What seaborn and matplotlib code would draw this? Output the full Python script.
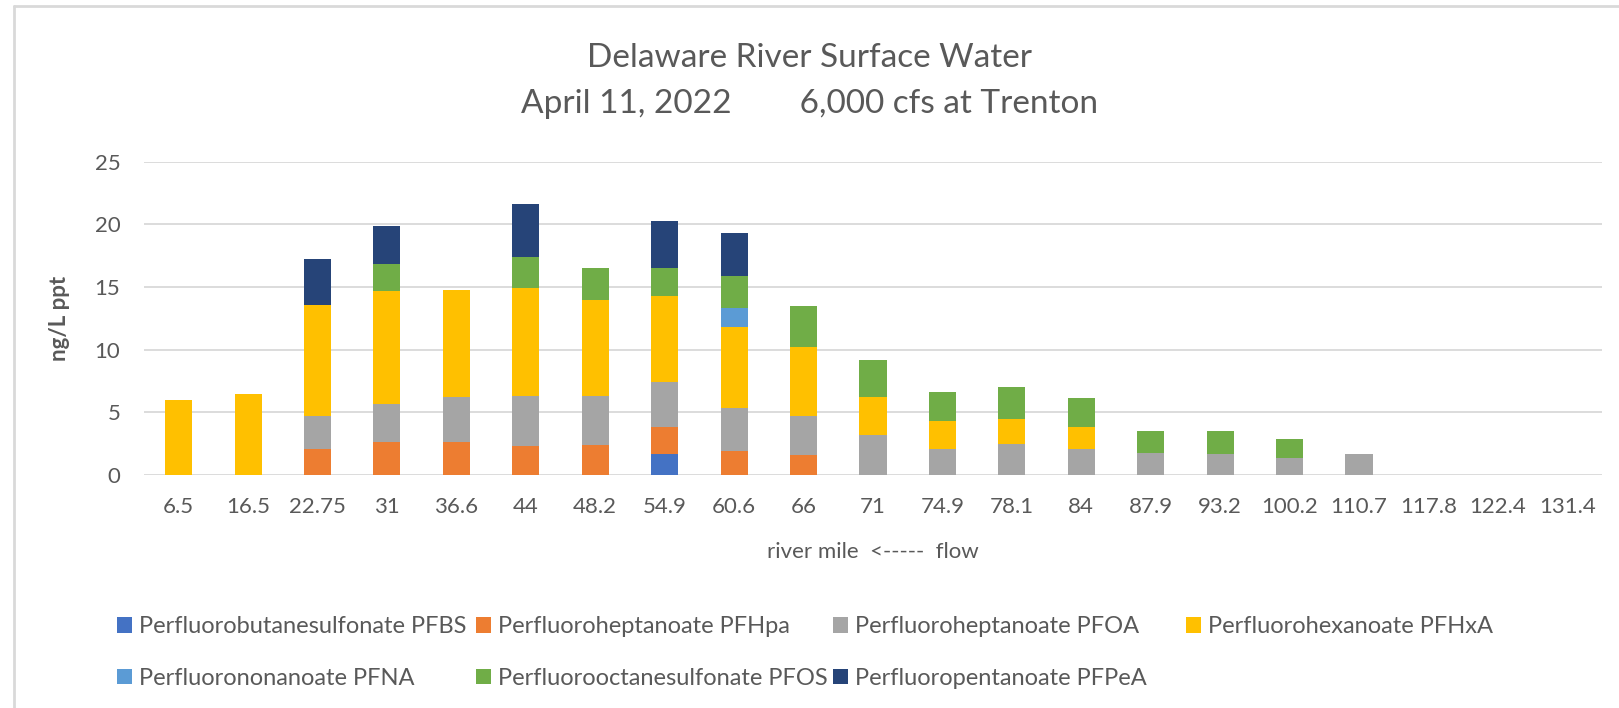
import numpy as np
import pandas as pd
import seaborn as sns
import matplotlib
matplotlib.use("Agg")
import matplotlib.pyplot as plt
from matplotlib.patches import Patch
from matplotlib.lines import Line2D

# river mile categories (x axis)
miles = ["6.5", "16.5", "22.75", "31", "36.6", "44", "48.2", "54.9", "60.6", "66",
         "71", "74.9", "78.1", "84", "87.9", "93.2", "100.2", "110.7", "117.8", "122.4", "131.4"]

# concentrations in ng/L (stacked bottom -> top)
pfbs = [0, 0, 0, 0, 0, 0, 0, 1.7, 0, 0, 0, 0, 0, 0, 0, 0, 0, 0, 0, 0, 0]
pfhpa = [0, 0, 2.1, 2.6, 2.6, 2.3, 2.4, 2.1, 1.9, 1.6, 0, 0, 0, 0, 0, 0, 0, 0, 0, 0, 0]
pfoa = [0, 0, 2.65, 3.1, 3.6, 4.0, 3.9, 3.65, 3.45, 3.15, 3.2, 2.1, 2.5, 2.1, 1.8, 1.7, 1.35, 1.7, 0, 0, 0]
pfhxa = [6.0, 6.5, 8.8, 9.0, 8.6, 8.6, 7.7, 6.8, 6.45, 5.5, 3.0, 2.2, 2.0, 1.75, 0, 0, 0, 0, 0, 0, 0]
pfna = [0, 0, 0, 0, 0, 0, 0, 0, 1.55, 0, 0, 0, 0, 0, 0, 0, 0, 0, 0, 0, 0]
pfos = [0, 0, 0, 2.1, 0, 2.5, 2.55, 2.3, 2.5, 3.2, 2.95, 2.35, 2.5, 2.3, 1.75, 1.85, 1.55, 0, 0, 0, 0]
pfpea = [0, 0, 3.7, 3.1, 0, 4.2, 0, 3.75, 3.5, 0, 0, 0, 0, 0, 0, 0, 0, 0, 0, 0, 0]

series_names = ["Perfluorobutanesulfonate PFBS", "Perfluoroheptanoate PFHpa",
                "Perfluoroheptanoate PFOA", "Perfluorohexanoate PFHxA",
                "Perfluorononanoate PFNA", "Perfluorooctanesulfonate PFOS",
                "Perfluoropentanoate PFPeA"]
series_vals = [pfbs, pfhpa, pfoa, pfhxa, pfna, pfos, pfpea]
colors = ["#4472C4", "#ED7D31", "#A5A5A5", "#FFC000", "#5B9BD5", "#70AD47", "#264478"]

sns.set_theme(style="white")
plt.rcParams['font.family'] = ['Lato', 'DejaVu Sans']
txt = "#595959"

fig = plt.figure(figsize=(16.19, 7.08), dpi=100)
ax = fig.add_axes([0.0889, 0.329, 0.9006, 0.4426])

bottom = np.zeros(len(miles))
for name, vals, c in zip(series_names, series_vals, colors):
    sns.barplot(x=miles, y=vals, order=miles, color=c, saturation=1, width=0.39,
                bottom=bottom, errorbar=None, linewidth=0, ax=ax)
    bottom = bottom + np.array(vals)

ax.set_ylim(0, 25)
ax.set_yticks([0, 5, 10, 15, 20, 25])
ax.yaxis.grid(True, color="#d9d9d9", linewidth=1.3)
ax.xaxis.grid(False)
ax.set_axisbelow(True)
for s in ax.spines.values():
    s.set_visible(False)
ax.tick_params(axis="both", length=0, labelsize=16, labelcolor=txt)
ax.tick_params(axis="y", pad=17)
ax.tick_params(axis="x", pad=16)

ax.set_ylabel("ng/L ppt", fontsize=16, color=txt, fontweight="bold")
ax.yaxis.set_label_coords(-0.051, 0.5)
ax.set_xlabel("river mile  <-----  flow", fontsize=16, color=txt)
ax.xaxis.set_label_coords(0.5, -0.215)

fig.text(0.5, 1 - 67 / 708, "Delaware River Surface Water", ha="center", va="baseline",
         fontsize=24, color=txt)
fig.text(0.5, 1 - 113 / 708, "April 11, 2022        6,000 cfs at Trenton", ha="center",
         va="baseline", fontsize=24, color=txt)

# legend laid out in a 4-column grid, filled row by row
handles = [Patch(facecolor=c, edgecolor="none") for c in colors]
col_x = [117, 476, 833, 1186]
for i, x in enumerate(col_x):
    idx = [j for j in (i, i + 4) if j < len(handles)]
    fig.legend([handles[j] for j in idx], [series_names[j] for j in idx],
               loc="upper left", bbox_to_anchor=(x / 1619, 1 - 616 / 708),
               frameon=False, fontsize=17, labelcolor=txt, borderpad=0,
               borderaxespad=0, handlelength=0.64, handleheight=0.64,
               handletextpad=0.28, labelspacing=1.3)

# chart area border (top and left only visible)
fig.add_artist(Line2D([14 / 1619, 14 / 1619], [0, 1 - 6 / 708], transform=fig.transFigure,
                      color="#d9d9d9", linewidth=2))
fig.add_artist(Line2D([14 / 1619, 1], [1 - 6 / 708, 1 - 6 / 708], transform=fig.transFigure,
                      color="#d9d9d9", linewidth=2))

fig.savefig("out.png", dpi=100)
